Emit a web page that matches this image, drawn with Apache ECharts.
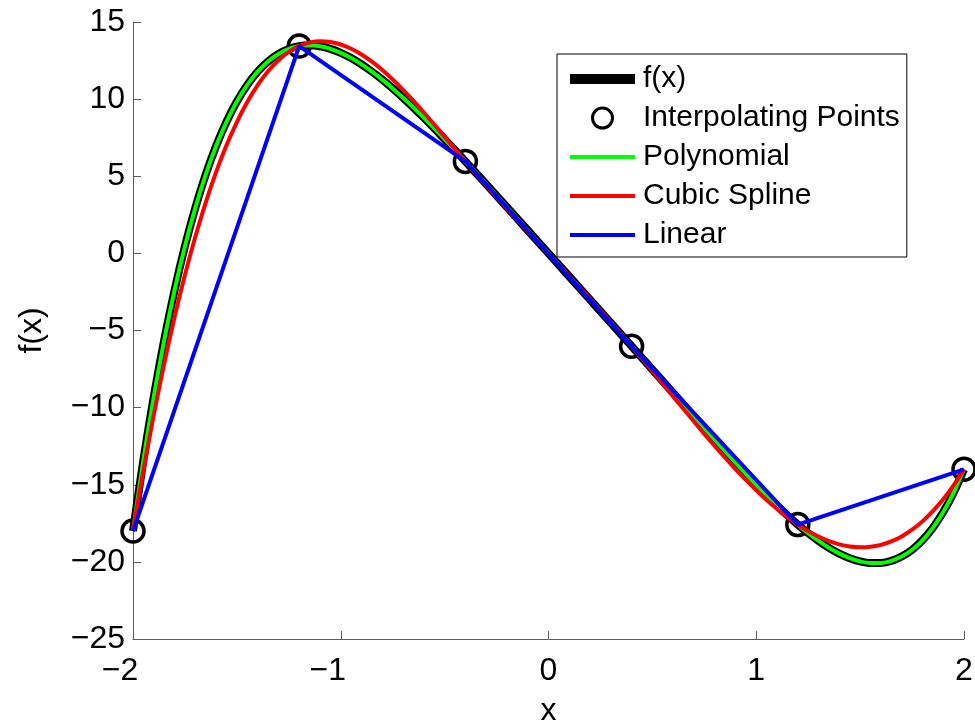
<!DOCTYPE html>
<html>
<head>
<meta charset="utf-8">
<script src="https://cdn.jsdelivr.net/npm/echarts@6/dist/echarts.min.js"></script>
<style>html,body{margin:0;padding:0;background:#fff}#c{width:975px;height:723px}</style>
</head>
<body>
<div id="c"></div>
<script>
const xs = [-2,-1.95,-1.9,-1.85,-1.8,-1.75,-1.7,-1.65,-1.6,-1.55,-1.5,-1.45,-1.4,-1.35,-1.3,-1.25,-1.2,-1.15,-1.1,-1.05,-1,-0.95,-0.9,-0.85,-0.8,-0.75,-0.7,-0.65,-0.6,-0.55,-0.5,-0.45,-0.4,-0.35,-0.3,-0.25,-0.2,-0.15,-0.1,-0.05,0,0.05,0.1,0.15,0.2,0.25,0.3,0.35,0.4,0.45,0.5,0.55,0.6,0.65,0.7,0.75,0.8,0.85,0.9,0.95,1,1.05,1.1,1.15,1.2,1.25,1.3,1.35,1.4,1.45,1.5,1.55,1.6,1.65,1.7,1.75,1.8,1.85,1.9,1.95,2];
const fY = [-18,-13.404,-9.293,-5.634,-2.393,0.458,2.949,5.108,6.961,8.531,9.844,10.920,11.780,12.444,12.931,13.257,13.438,13.490,13.425,13.258,13.0,12.662,12.253,11.784,11.263,10.696,10.092,9.455,8.793,8.108,7.406,6.691,5.964,5.230,4.489,3.745,2.998,2.249,1.500,0.750,0,-0.750,-1.500,-2.250,-3.001,-3.753,-4.506,-5.260,-6.015,-6.773,-7.531,-8.291,-9.052,-9.812,-10.572,-11.329,-12.082,-12.828,-13.566,-14.291,-15.0,-15.689,-16.354,-16.988,-17.585,-18.140,-18.643,-19.087,-19.463,-19.761,-19.969,-20.075,-20.068,-19.932,-19.654,-19.216,-18.602,-17.794,-16.771,-15.514,-14.0];
const polyY = [-18,-13.404,-9.293,-5.634,-2.393,0.458,2.949,5.108,6.961,8.531,9.844,10.920,11.780,12.444,12.931,13.257,13.438,13.490,13.425,13.258,13.0,12.662,12.253,11.784,11.263,10.696,10.092,9.455,8.793,8.108,7.406,6.691,5.964,5.230,4.489,3.745,2.998,2.249,1.500,0.750,0,-0.750,-1.500,-2.250,-3.001,-3.753,-4.506,-5.260,-6.015,-6.773,-7.531,-8.291,-9.052,-9.812,-10.572,-11.329,-12.082,-12.828,-13.566,-14.291,-15.0,-15.689,-16.354,-16.988,-17.585,-18.140,-18.643,-19.087,-19.463,-19.761,-19.969,-20.075,-20.068,-19.932,-19.654,-19.216,-18.602,-17.794,-16.771,-15.514,-14.0];
const splineY = [-18,-14.083,-10.475,-7.166,-4.145,-1.402,1.074,3.293,5.266,7.003,8.514,9.811,10.903,11.802,12.517,13.059,13.438,13.666,13.752,13.706,13.541,13.265,12.890,12.425,11.882,11.271,10.602,9.886,9.133,8.354,7.559,6.759,5.964,5.183,4.415,3.659,2.913,2.174,1.441,0.712,-0.015,-0.743,-1.473,-2.208,-2.949,-3.698,-4.457,-5.229,-6.015,-6.817,-7.630,-8.449,-9.271,-10.091,-10.903,-11.703,-12.486,-13.248,-13.984,-14.689,-15.358,-15.987,-16.571,-17.106,-17.585,-18.006,-18.362,-18.650,-18.865,-19.001,-19.055,-19.021,-18.895,-18.672,-18.348,-17.917,-17.374,-16.716,-15.938,-15.034,-14.0];
const pointX = [-2,-1.2,-0.4,0.4,1.2,2];
const pointY = [-18,13.438,5.964,-6.015,-17.585,-14];
const xTicks = [-2,-1,0,1,2];
const yTicks = [-25,-20,-15,-10,-5,0,5,10,15];
const seriesNames = ['f(x)','Interpolating Points','Polynomial','Cubic Spline','Linear'];

const zip = (a, b) => a.map((v, i) => [v, b[i]]);
const FONT = 'Liberation Sans, Arial, Helvetica, sans-serif';
const minus = v => String(v).replace('-', '\u2212');

const chart = echarts.init(document.getElementById('c'), null, {renderer: 'canvas'});
chart.setOption({
  animation: false,
  backgroundColor: '#fff',
  grid: {left: 133, right: 11, top: 22, bottom: 84, containLabel: false, outerBoundsMode: 'none'},
  xAxis: {
    type: 'value', min: xTicks[0], max: xTicks[xTicks.length - 1], interval: 1,
    name: 'x', nameLocation: 'middle', nameGap: 56,
    nameTextStyle: {fontSize: 32, fontFamily: FONT, color: '#000'},
    axisLine: {show: true, onZero: false, lineStyle: {color: '#5a5a5a', width: 1}},
    axisTick: {show: true, inside: true, length: 8, lineStyle: {color: '#5a5a5a'}},
    splitLine: {show: false},
    axisLabel: {
      fontSize: 32, fontFamily: FONT, color: '#000', margin: 16,
      formatter: v => v < 0 ? '{n|' + minus(v) + '}' : String(v),
      rich: {n: {fontSize: 32, fontFamily: FONT, color: '#000', padding: [0, 26, 0, 0]}}
    }
  },
  yAxis: {
    type: 'value', min: yTicks[0], max: yTicks[yTicks.length - 1], interval: 5,
    name: 'f(x)', nameLocation: 'middle', nameGap: 85,
    nameTextStyle: {fontSize: 32, fontFamily: FONT, color: '#000'},
    axisLine: {show: true, onZero: false, lineStyle: {color: '#5a5a5a', width: 1}},
    axisTick: {show: true, inside: true, length: 8, lineStyle: {color: '#5a5a5a'}},
    splitLine: {show: false},
    axisLabel: {fontSize: 32, fontFamily: FONT, color: '#000', margin: 8, formatter: minus}
  },
  legend: {
    orient: 'vertical', left: 557, top: 54,
    padding: [10, 7, 7, 13],
    itemWidth: 65, itemHeight: 20, itemGap: 9,
    backgroundColor: '#fff', borderColor: '#000', borderWidth: 1, borderRadius: 0,
    textStyle: {fontSize: 30, fontFamily: FONT, color: '#000', lineHeight: 24, padding: [0, 0, 0, 3]},
    data: [
      {name: seriesNames[0], icon: 'path://M0,0H65V10H0Z', itemStyle: {color: '#000', borderWidth: 0, opacity: 1}},
      {name: seriesNames[1], icon: 'circle', itemStyle: {color: '#fff', borderColor: '#000', borderWidth: 3, opacity: 1}},
      {name: seriesNames[2], icon: 'path://M0,0H65V4H0Z', itemStyle: {color: '#00ff00', borderWidth: 0, opacity: 1}},
      {name: seriesNames[3], icon: 'path://M0,0H65V4H0Z', itemStyle: {color: '#ff0000', borderWidth: 0, opacity: 1}},
      {name: seriesNames[4], icon: 'path://M0,0H65V4H0Z', itemStyle: {color: '#0000ff', borderWidth: 0, opacity: 1}}
    ]
  },
  series: [
    {name: seriesNames[0], type: 'line', data: zip(xs, fY), smooth: 0.3, showSymbol: false, symbol: 'none',
     color: '#000', lineStyle: {color: '#000', width: 8}},
    {name: seriesNames[1], type: 'scatter', data: zip(pointX, pointY), symbol: 'circle', symbolSize: 22, clip: false,
     color: '#000', itemStyle: {color: 'rgba(255,255,255,0)', borderColor: '#000', borderWidth: 3.5, opacity: 1}},
    {name: seriesNames[2], type: 'line', data: zip(xs, polyY), smooth: 0.3, showSymbol: false, symbol: 'none',
     color: '#00ff00', lineStyle: {color: '#00ff00', width: 4}},
    {name: seriesNames[3], type: 'line', data: zip(xs, splineY), smooth: 0.3, showSymbol: false, symbol: 'none',
     color: '#ff0000', lineStyle: {color: '#ff0000', width: 4}},
    {name: seriesNames[4], type: 'line', data: zip(pointX, pointY), smooth: false, showSymbol: false, symbol: 'none',
     color: '#0000ff', lineStyle: {color: '#0000ff', width: 4}}
  ]
});
</script>
</body>
</html>
